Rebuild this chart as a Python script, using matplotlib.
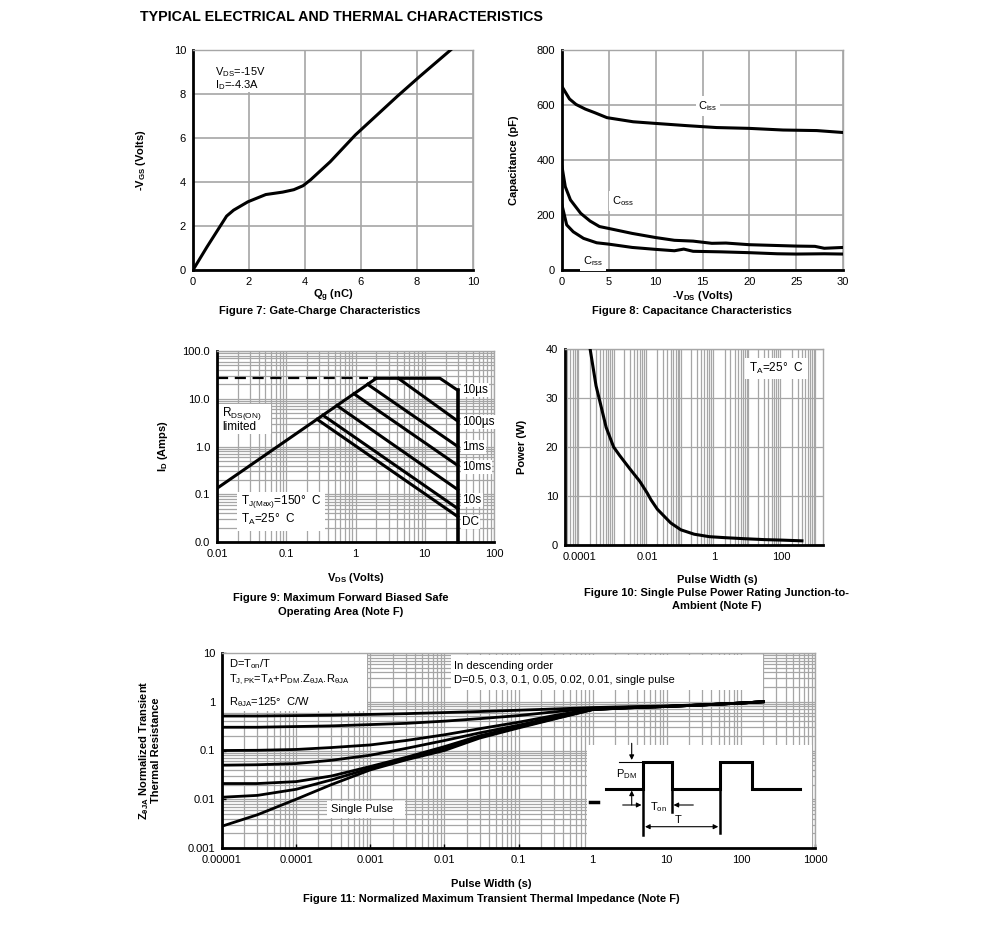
import matplotlib
matplotlib.use('Agg')
import matplotlib.pyplot as plt
import matplotlib.ticker as ticker
from matplotlib.patches import Rectangle
import numpy as np

plt.rcParams['font.family'] = ['Liberation Sans', 'DejaVu Sans']
plt.rcParams['mathtext.fontset'] = 'custom'
plt.rcParams['mathtext.rm'] = 'Liberation Sans'
plt.rcParams['mathtext.it'] = 'Liberation Sans:italic'
plt.rcParams['mathtext.bf'] = 'Liberation Sans:bold'
plt.rcParams['font.size'] = 8

W, H = 991, 939
GRID = '#a6a6a6'

# ---- Figure 7: gate charge
qg = [0, 0.5, 1.0, 1.2, 1.45, 1.96, 2.6, 3.2, 3.6, 3.93, 4.2, 4.9, 5.8, 7.3, 8.1, 9.2]
vgs = [0, 1.05, 2.05, 2.45, 2.72, 3.1, 3.43, 3.54, 3.65, 3.83, 4.1, 4.92, 6.14, 7.9, 8.8, 10.0]

# ---- Figure 8: capacitance
ciss_v = [0, 0.3, 0.8, 1.5, 2.5, 3.5, 4.8, 7.6, 10, 13.3, 16.5, 20, 23.6, 27.2, 30]
ciss = [667, 650, 622, 602, 585, 572, 554, 539, 533, 525, 518, 515, 509, 507, 500]
coss_v = [0, 0.35, 0.9, 2, 3, 4, 5, 7.5, 10, 12, 14, 16, 17.5, 20, 23, 25, 27, 28, 30]
coss = [376, 303, 255, 206, 178, 158, 151, 133, 118, 108, 105, 97, 98, 92, 89, 87, 86, 79, 82]
crss_v = [0, 0.5, 1.2, 2.3, 3.7, 5, 7.5, 10, 12, 13, 14, 17, 20, 23, 25, 28, 30]
crss = [236, 164, 139, 115, 99, 94, 82, 75, 70, 76, 68, 66, 63, 59, 58, 59, 58]

# ---- Figure 9: SOA
rds_v = [0.01, 2.0]
rds_i = [0.133, 26.8]
dash_v = [0.01, 1.5]
dash_i = [26.8, 26.8]
lim10us_v = [1.9, 16.6, 30]
lim10us_i = [26.8, 26.8, 15]
vmax_v = [30, 30]
vmax_i = [15, 0.01]
soa_start_v = [4.15, 1.5, 0.95, 0.54, 0.34, 0.28]
soa_start_i = [26.8, 20.0, 12.7, 7.2, 4.5, 3.7]
soa_end_v = [30, 30, 30, 30, 30, 30]
soa_end_i = [3.4, 1.0, 0.40, 0.125, 0.05, 0.034]
soa_labels = ['10\u00b5s', '100\u00b5s', '1ms', '10ms', '10s', 'DC']
soa_label_py = [390, 422, 447, 467, 500, 522]

# ---- Figure 10: single pulse power
pw = [1.9e-4, 2e-4, 3e-4, 4e-4, 6e-4, 1e-3, 1.5e-3, 3e-3, 6e-3, 0.01, 0.013, 0.02,
      0.05, 0.1, 0.25, 0.7, 2, 7, 30, 100, 400]
pwr = [42, 40, 32.5, 29, 24, 20, 18.3, 15.6, 13, 10.6, 9.2, 7.3,
       4.5, 3.1, 2.2, 1.7, 1.5, 1.3, 1.1, 1.0, 0.85]

# ---- Figure 11: transient thermal impedance
zt = [1e-5, 3e-5, 1e-4, 3e-4, 1e-3, 3e-3, 1e-2, 3e-2, 0.1, 0.3, 1, 3, 10, 30, 100, 200]
z_d05 = [0.51, 0.51, 0.52, 0.53, 0.55, 0.57, 0.60, 0.63, 0.67, 0.71, 0.76, 0.79, 0.82, 0.87, 0.94, 1.0]
z_d03 = [0.30, 0.30, 0.31, 0.32, 0.34, 0.36, 0.40, 0.45, 0.52, 0.62, 0.73, 0.77, 0.81, 0.86, 0.94, 1.0]
z_d01 = [0.100, 0.101, 0.105, 0.115, 0.13, 0.16, 0.21, 0.28, 0.38, 0.52, 0.71, 0.76, 0.80, 0.86, 0.94, 1.0]
z_d005 = [0.050, 0.051, 0.054, 0.063, 0.08, 0.11, 0.16, 0.23, 0.33, 0.48, 0.70, 0.75, 0.80, 0.86, 0.94, 1.0]
z_d002 = [0.021, 0.021, 0.023, 0.030, 0.047, 0.072, 0.12, 0.20, 0.31, 0.46, 0.70, 0.75, 0.80, 0.86, 0.94, 1.0]
z_d001 = [0.011, 0.012, 0.016, 0.025, 0.043, 0.067, 0.11, 0.19, 0.30, 0.45, 0.69, 0.75, 0.80, 0.86, 0.94, 1.0]
z_single = [0.0028, 0.0048, 0.0100, 0.020, 0.040, 0.064, 0.10, 0.18, 0.29, 0.44, 0.69, 0.75, 0.80, 0.86, 0.94, 1.0]

fig = plt.figure(figsize=(W / 100, H / 100), dpi=100)


def px_axes(box):
    l, t, r, b = box
    return fig.add_axes([l / W, 1 - b / H, (r - l) / W, (b - t) / H])


def fr(box, x, y):
    l, t, r, b = box
    return (x - l) / (r - l), (b - y) / (b - t)


def style(ax):
    for s in ['left', 'bottom']:
        ax.spines[s].set_linewidth(2.0)
        ax.spines[s].set_color('black')
    for s in ['top', 'right']:
        ax.spines[s].set_linewidth(1.0)
        ax.spines[s].set_color(GRID)
    ax.tick_params(which='both', length=0, labelsize=8, pad=5)
    ax.set_axisbelow(True)


def white_box(ax, box, x0, y0, x1, y1):
    fx0, fy1 = fr(box, x0, y0)
    fx1, fy0 = fr(box, x1, y1)
    ax.add_patch(Rectangle((fx0, fy0), fx1 - fx0, fy1 - fy0, transform=ax.transAxes,
                           fc='white', ec='none', zorder=2))


def put(ax, box, x, y, s, **kw):
    fx, fy = fr(box, x, y)
    ax.text(fx, fy, s, transform=ax.transAxes, va='center', zorder=3, **kw)


def log_grid(ax):
    for a in [ax.xaxis, ax.yaxis]:
        a.set_minor_locator(ticker.LogLocator(base=10, subs=np.arange(2, 10), numticks=100))
        a.set_minor_formatter(ticker.NullFormatter())


def plain(v, pos=None):
    dec = max(0, -int(np.floor(np.log10(v) + 1e-9)))
    return f'{v:.{dec}f}'


fig.text(140 / W, 1 - 17 / H, 'TYPICAL ELECTRICAL AND THERMAL CHARACTERISTICS',
         fontsize=10.3, fontweight='bold', va='center', ha='left')

# ---------------- Figure 7
b7 = (193, 50, 473, 270)
ax7 = px_axes(b7)
ax7.plot(qg, vgs, color='black', lw=2.2, zorder=4)
ax7.set_xlim(0, 10)
ax7.set_ylim(0, 10)
ax7.set_xticks(range(0, 11, 2))
ax7.set_yticks(range(0, 11, 2))
ax7.grid(True, color=GRID, lw=1.2)
style(ax7)
white_box(ax7, b7, 212, 50, 287, 92)
put(ax7, b7, 215, 72, r'V$_{\rm DS}$=-15V')
put(ax7, b7, 215, 85, r'I$_{\rm D}$=-4.3A')
ax7.set_xlabel(r'Q$_{\bf g}$ (nC)', fontweight='bold', fontsize=8)
ax7.xaxis.set_label_coords(0.5, fr(b7, 0, 288)[1])
ax7.set_ylabel(r'-V$_{\bf GS}$ (Volts)', fontweight='bold', fontsize=8)
ax7.yaxis.set_label_coords(fr(b7, 148, 0)[0], 0.5)
fig.text(320 / W, 1 - 310.5 / H, 'Figure 7: Gate-Charge Characteristics',
         fontweight='bold', fontsize=8, ha='center', va='center')

# ---------------- Figure 8
b8 = (562, 50, 843, 270)
ax8 = px_axes(b8)
for xs, ys in [(ciss_v, ciss), (coss_v, coss), (crss_v, crss)]:
    ax8.plot(xs, ys, color='black', lw=2.2, zorder=4)
ax8.set_xlim(0, 30)
ax8.set_ylim(0, 800)
ax8.set_xticks(range(0, 31, 5))
ax8.set_yticks(range(0, 801, 200))
ax8.grid(True, color=GRID, lw=1.2)
style(ax8)
bb = dict(facecolor='white', edgecolor='none', pad=2)
put(ax8, b8, 708, 106, r'C$_{\rm iss}$', ha='center', bbox=bb)
put(ax8, b8, 623, 201, r'C$_{\rm oss}$', ha='center', bbox=bb)
put(ax8, b8, 593, 261, r'C$_{\rm rss}$', ha='center', bbox=bb)
ax8.set_xlabel(r'-V$_{\bf DS}$ (Volts)', fontweight='bold', fontsize=8)
ax8.xaxis.set_label_coords(0.5, fr(b8, 0, 289)[1])
ax8.set_ylabel('Capacitance (pF)', fontweight='bold', fontsize=8)
ax8.yaxis.set_label_coords(fr(b8, 519, 0)[0], 0.5)
fig.text(692 / W, 1 - 310.5 / H, 'Figure 8: Capacitance Characteristics',
         fontweight='bold', fontsize=8, ha='center', va='center')

# ---------------- Figure 9
b9 = (217, 351, 494, 542)
ax9 = px_axes(b9)
ax9.set_xscale('log')
ax9.set_yscale('log')
ax9.set_xlim(0.01, 100)
ax9.set_ylim(0.01, 100)
log_grid(ax9)
ax9.grid(True, which='both', color=GRID, lw=0.9)
ax9.plot(rds_v, rds_i, color='black', lw=2.2, zorder=4)
ax9.plot(dash_v, dash_i, color='black', lw=1.6, ls=(0, (5, 3)), zorder=4)
ax9.plot(lim10us_v, lim10us_i, color='black', lw=2.2, zorder=4)
ax9.plot(vmax_v, vmax_i, color='black', lw=2.6, zorder=4, clip_on=False)
for v0, i0, v1, i1 in zip(soa_start_v, soa_start_i, soa_end_v, soa_end_i):
    ax9.plot([v0, v1], [i0, i1], color='black', lw=2.2, zorder=4)
ax9.yaxis.set_major_formatter(ticker.FormatStrFormatter('%.1f'))
ax9.xaxis.set_major_formatter(ticker.FuncFormatter(plain))
style(ax9)
white_box(ax9, b9, 218, 404, 271, 434)
put(ax9, b9, 222, 413, r'R$_{\rm DS(ON)}$', fontsize=8.5)
put(ax9, b9, 222, 427, 'limited', fontsize=8.5)
white_box(ax9, b9, 237, 492, 325, 531)
put(ax9, b9, 241, 502, r'T$_{\rm J(Max)}$=150°  C', fontsize=8.5)
put(ax9, b9, 241, 519, r'T$_{\rm A}$=25°  C', fontsize=8.5)
for lab, py in zip(soa_labels, soa_label_py):
    put(ax9, b9, 462, py, lab, fontsize=8.5, bbox=dict(facecolor='white', edgecolor='none', pad=1))
ax9.set_xlabel(r'V$_{\bf DS}$ (Volts)', fontweight='bold', fontsize=8)
ax9.xaxis.set_label_coords(0.5, fr(b9, 0, 571)[1])
ax9.set_ylabel(r'I$_{\bf D}$ (Amps)', fontweight='bold', fontsize=8)
ax9.yaxis.set_label_coords(fr(b9, 170, 0)[0], 0.5)
fig.text(341 / W, 1 - 598 / H, 'Figure 9: Maximum Forward Biased Safe',
         fontweight='bold', fontsize=8, ha='center', va='center')
fig.text(341 / W, 1 - 612 / H, 'Operating Area (Note F)',
         fontweight='bold', fontsize=8, ha='center', va='center')

# ---------------- Figure 10
b10 = (565, 349, 823, 545)
ax10 = px_axes(b10)
ax10.set_xscale('log')
ax10.set_xlim(3.58e-5, 1694)
ax10.set_ylim(0, 40)
ax10.set_xticks([1e-4, 1e-2, 1, 100])
ax10.xaxis.set_major_formatter(ticker.FuncFormatter(plain))
ax10.xaxis.set_minor_locator(ticker.LogLocator(base=10, subs=np.arange(1, 10), numticks=100))
ax10.xaxis.set_minor_formatter(ticker.NullFormatter())
ax10.set_yticks(range(0, 41, 10))
ax10.xaxis.grid(True, which='minor', color=GRID, lw=0.9)
ax10.yaxis.grid(True, which='major', color=GRID, lw=0.9)
ax10.plot(pw, pwr, color='black', lw=2.2, zorder=4)
style(ax10)
white_box(ax10, b10, 745, 358, 808, 379)
put(ax10, b10, 749, 368, r'T$_{\rm A}$=25°  C', fontsize=8.5)
ax10.set_xlabel('Pulse Width (s)', fontweight='bold', fontsize=8)
ax10.xaxis.set_label_coords(fr(b10, 717, 0)[0], fr(b10, 0, 575)[1])
ax10.set_ylabel('Power (W)', fontweight='bold', fontsize=8)
ax10.yaxis.set_label_coords(fr(b10, 527, 0)[0], 0.5)
fig.text(717 / W, 1 - 593 / H, 'Figure 10: Single Pulse Power Rating Junction-to-',
         fontweight='bold', fontsize=8, ha='center', va='center')
fig.text(717 / W, 1 - 606 / H, 'Ambient (Note F)',
         fontweight='bold', fontsize=8, ha='center', va='center')

# ---------------- Figure 11
b11 = (222, 653, 815, 848)
ax11 = px_axes(b11)
ax11.set_xscale('log')
ax11.set_yscale('log')
ax11.set_xlim(1e-5, 1000)
ax11.set_ylim(0.001, 10)
log_grid(ax11)
ax11.grid(True, which='both', color=GRID, lw=0.9)
for zs in [z_d05, z_d03, z_d01, z_d005, z_d002, z_d001, z_single]:
    ax11.plot(zt, zs, color='black', lw=2.0, zorder=4)
ax11.xaxis.set_major_locator(ticker.LogLocator(base=10, numticks=100))
ax11.yaxis.set_major_locator(ticker.LogLocator(base=10, numticks=100))
ax11.xaxis.set_major_formatter(ticker.FuncFormatter(plain))
ax11.yaxis.set_major_formatter(ticker.FuncFormatter(plain))
style(ax11)
ax11.tick_params(which='major', length=3, direction='in', width=1)
white_box(ax11, b11, 222, 653, 367, 711)
put(ax11, b11, 229, 664, r'D=T$_{\rm on}$/T', fontsize=8)
put(ax11, b11, 229, 680, r'T$_{\rm J,PK}$=T$_{\rm A}$+P$_{\rm DM}$.Z$_{\rm θJA}$.R$_{\rm θJA}$', fontsize=8)
put(ax11, b11, 229, 702, r'R$_{\rm θJA}$=125°  C/W', fontsize=8)
white_box(ax11, b11, 451, 655, 763, 690)
put(ax11, b11, 454, 666, 'In descending order', fontsize=8)
put(ax11, b11, 454, 680, 'D=0.5, 0.3, 0.1, 0.05, 0.02, 0.01, single pulse', fontsize=8)
white_box(ax11, b11, 327, 801, 405, 818)
put(ax11, b11, 331, 809.5, 'Single Pulse', fontsize=8)
white_box(ax11, b11, 587, 745, 812, 848)
ax11.set_xlabel('Pulse Width (s)', fontweight='bold', fontsize=8)
ax11.xaxis.set_label_coords(fr(b11, 491, 0)[0], fr(b11, 0, 879)[1])
ax11.set_ylabel('Z$_{\\bf θJA}$ Normalized Transient\nThermal Resistance',
                fontweight='bold', fontsize=8, linespacing=0.95)
ax11.yaxis.set_label_coords(fr(b11, 161, 0)[0], 0.5)
fig.text(491 / W, 1 - 899 / H, 'Figure 11: Normalized Maximum Transient Thermal Impedance (Note F)',
         fontweight='bold', fontsize=8, ha='center', va='center')

# pulse-train sketch drawn in figure pixel coordinates
ov = fig.add_axes([0, 0, 1, 1], zorder=10)
ov.set_xlim(0, W)
ov.set_ylim(H, 0)
ov.axis('off')
ov.patch.set_alpha(0)
wx = [606, 643.3, 643.3, 671.7, 671.7, 720, 720, 751.7, 751.7, 800]
wy = [789.3, 789.3, 761.7, 761.7, 789.3, 789.3, 761.7, 761.7, 789.3, 789.3]
ov.plot(wx, wy, color='black', lw=2.2, solid_joinstyle='miter')
ov.plot([643.3, 643.3], [789.3, 835], color='black', lw=1.8)
ov.plot([671.7, 671.7], [789.3, 811.7], color='black', lw=1.8)
ov.plot([720, 720], [789.3, 833], color='black', lw=1.8)
ov.plot([619, 643.3], [761.7, 761.7], color='black', lw=0.8)
ov.plot([590, 598], [801.7, 801.7], color='black', lw=2.5)
ap = dict(arrowstyle='-|>', lw=0.8, color='black', mutation_scale=7, shrinkA=0, shrinkB=0)
ov.annotate('', xy=(631.7, 760), xytext=(631.7, 743.3), arrowprops=ap)
ov.annotate('', xy=(631.7, 790.5), xytext=(631.7, 805), arrowprops=ap)
ov.annotate('', xy=(641.5, 805), xytext=(622.7, 805), arrowprops=ap)
ov.annotate('', xy=(673.5, 805), xytext=(693.3, 805), arrowprops=ap)
ap2 = dict(arrowstyle='<|-|>', lw=0.8, color='black', mutation_scale=7, shrinkA=0, shrinkB=0)
ov.annotate('', xy=(718.3, 826.7), xytext=(645, 826.7), arrowprops=ap2)
ov.text(626.7, 774, r'P$_{\rm DM}$', fontsize=8, ha='center', va='center')
ov.text(658, 807.5, r'T$_{\rm on}$', fontsize=8, ha='center', va='center')
ov.text(678, 820, 'T', fontsize=8, ha='center', va='center')

fig.savefig('out.png', dpi=100)
